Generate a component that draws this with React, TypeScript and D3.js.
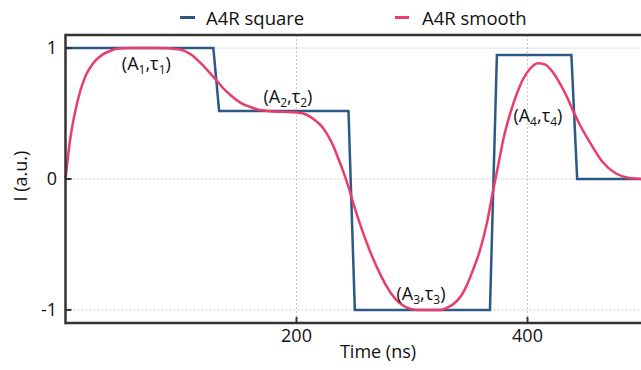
import React from 'react';
import * as d3 from 'd3';

// square pulse (A4R square): [time ns, amplitude]
const squareT = [0, 128, 133, 245, 250.5, 367.5, 373.5, 438, 443, 500];
const squareV = [1, 1, 0.52, 0.52, -1, -1, 0.947, 0.947, 0, 0];

// smoothed pulse (A4R smooth)
const smoothT = [0, 4, 10, 17, 24, 32, 39, 45, 55, 80, 99, 108, 116, 124, 131, 138, 145, 152, 160, 167, 175, 188, 200, 206, 212, 218, 223, 228, 232, 236, 240, 245, 249, 256, 264, 271, 278, 285, 292, 298, 305, 325, 330, 336, 342, 347, 353, 359, 365, 370, 375, 379, 383, 387.5, 392, 396, 402, 409, 415, 422, 428, 434, 439, 445, 454, 465, 477, 488, 500];
const smoothV = [0, 0.3, 0.58, 0.78, 0.885, 0.95, 0.98, 0.995, 1, 1, 0.99, 0.955, 0.895, 0.82, 0.75, 0.68, 0.625, 0.58, 0.55, 0.53, 0.52, 0.513, 0.508, 0.5, 0.475, 0.435, 0.39, 0.32, 0.25, 0.16, 0.07, -0.06, -0.18, -0.37, -0.56, -0.7, -0.82, -0.91, -0.965, -0.99, -1, -1, -0.985, -0.955, -0.9, -0.82, -0.69, -0.54, -0.33, -0.1, 0.12, 0.3, 0.44, 0.57, 0.68, 0.76, 0.84, 0.885, 0.875, 0.815, 0.73, 0.63, 0.53, 0.42, 0.28, 0.13, 0.04, 0.008, 0];

const xTicks = [200, 400];
const yTicks = [1, 0, -1];

// annotation labels (A_n, tau_n), anchored in data units
const labelN = ['1', '2', '3', '4'];
const labelT = [70, 192.6, 307.8, 409];
const labelV = [0.833, 0.58, -0.924, 0.435];

const BLUE = '#2c5986';
const PINK = '#ec3c6c';
const AXIS = '#333333';
const FONT = '"Open Sans", sans-serif';

const width = 641;
const height = 370;

export default function App() {
  const x = d3.scaleLinear().domain([0, 500]).range([65.5, 643]);
  const y = d3.scaleLinear().domain([-1.1, 1.1]).range([323, 35]);

  const sq = squareT.map((t, i) => [t, squareV[i]] as [number, number]);
  const sm = smoothT.map((t, i) => [t, smoothV[i]] as [number, number]);

  const squareLine = d3.line<[number, number]>()
    .x(d => x(d[0]))
    .y(d => y(d[1]));

  const smoothLine = d3.line<[number, number]>()
    .x(d => x(d[0]))
    .y(d => y(d[1]))
    .curve(d3.curveMonotoneX);

  const [x0, x1] = x.range();
  const [yb, yt] = y.range();

  return (
    <svg width={width} height={height} style={{ position: 'absolute', left: 0, top: 0 }} fontFamily={FONT}>
      <rect width={width} height={height} fill="#fff" />

      {/* grid */}
      {yTicks.map(v => (
        <line key={'gy' + v} x1={x0} x2={x1} y1={y(v)} y2={y(v)}
          stroke="#c8c8c8" strokeWidth={1} strokeDasharray="2,2" />
      ))}
      {xTicks.map(v => (
        <line key={'gx' + v} x1={x(v)} x2={x(v)} y1={yt} y2={yb}
          stroke="#c8c8c8" strokeWidth={1} strokeDasharray="2,2" />
      ))}

      <path d={squareLine(sq) || ''} fill="none" stroke={BLUE} strokeWidth={2.5} />
      <path d={smoothLine(sm) || ''} fill="none" stroke={PINK} strokeWidth={2.5} />

      {/* frame */}
      <line x1={x0} x2={x1} y1={yt} y2={yt} stroke={AXIS} strokeWidth={2.5} />
      <line x1={x0} x2={x1} y1={yb} y2={yb} stroke={AXIS} strokeWidth={2.5} />
      <line x1={x0} x2={x0} y1={yt - 1.25} y2={yb + 1.25} stroke={AXIS} strokeWidth={2.5} />

      {yTicks.map(v => (
        <g key={'ty' + v}>
          <line x1={x0} x2={x0 + 6} y1={y(v)} y2={y(v)} stroke={AXIS} strokeWidth={2} />
          <text x={57} y={y(v)} dy="0.35em" textAnchor="end" fontSize={18} fill="#111">
            {v === -1 ? '-1' : String(v)}
          </text>
        </g>
      ))}
      {xTicks.map(v => (
        <g key={'tx' + v}>
          <line x1={x(v)} x2={x(v)} y1={yb} y2={yb - 6} stroke={AXIS} strokeWidth={2} />
          <text x={x(v)} y={342} textAnchor="middle" fontSize={18} fill="#111">{v}</text>
        </g>
      ))}

      <text x={378} y={358} textAnchor="middle" fontSize={18} fill="#111">Time (ns)</text>
      <text transform="translate(27,176) rotate(-90)" textAnchor="middle" fontSize={18} fill="#111">I (a.u.)</text>

      {labelN.map((n, i) => (
        <text key={n} x={x(labelT[i])} y={y(labelV[i])} textAnchor="middle" fontSize={18} fill="#111">
          (A<tspan fontSize={12} dy={4}>{n}</tspan><tspan dy={-4}>,τ</tspan><tspan fontSize={12} dy={4}>{n}</tspan><tspan dy={-4}>)</tspan>
        </text>
      ))}

      {/* legend */}
      <line x1={180} x2={195} y1={17.5} y2={17.5} stroke={BLUE} strokeWidth={3} />
      <text x={206} y={25} fontSize={18.5} fill="#111">A4R square</text>
      <line x1={395} x2={409} y1={17.5} y2={17.5} stroke={PINK} strokeWidth={3} />
      <text x={422} y={25} fontSize={18.5} fill="#111">A4R smooth</text>
    </svg>
  );
}
